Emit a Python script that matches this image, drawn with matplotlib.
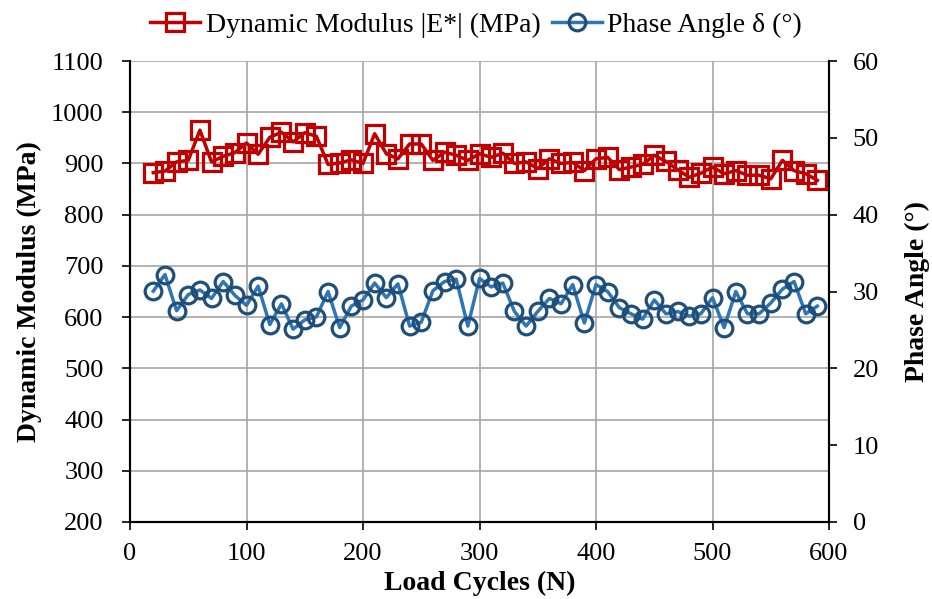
import matplotlib
matplotlib.use("Agg")
import matplotlib.pyplot as plt
import numpy as np

plt.rcParams['font.family'] = ['Liberation Serif', 'DejaVu Serif']

cycles = list(range(20, 600, 10))
modulus = [882, 885, 903, 906, 965, 903, 914, 921, 940, 918,
           951, 961, 942, 960, 953, 898, 901, 907, 900, 958,
           919, 909, 938, 938, 906, 922, 916, 906, 919, 912,
           920, 900, 903, 890, 909, 900, 902, 886, 909, 912,
           888, 893, 898, 916, 904, 888, 873, 881, 893, 880,
           886, 877, 877, 870, 906, 886, 880, 867]
phase = [30.05, 32.2, 27.5, 29.6, 30.2, 29.1, 31.3, 29.5, 28.2, 30.7,
         25.7, 28.4, 25.1, 26.3, 26.7, 30.0, 25.3, 28.1, 28.9, 31.1,
         29.2, 31.0, 25.5, 26.0, 30.1, 31.3, 31.6, 25.5, 31.7, 30.6,
         31.1, 27.4, 25.5, 27.4, 29.1, 28.4, 30.9, 25.9, 30.9, 30.0,
         27.9, 27.1, 26.4, 28.9, 27.1, 27.4, 26.8, 27.1, 29.2, 25.3,
         30.0, 27.1, 27.1, 28.5, 30.3, 31.3, 27.1, 28.1]

fig = plt.figure(figsize=(9.32, 5.99), dpi=100)
ax = fig.add_axes([130/932, 1-522/599, (829-130)/932, (522-61)/599])
ax2 = ax.twinx()

red = '#C00000'
blue_line = '#2E75B6'
blue_edge = '#1F4E79'

l1, = ax.plot(cycles, modulus, color=red, lw=2.5, marker='s', markersize=12.5,
              markerfacecolor='none', markeredgecolor=red, markeredgewidth=2.3,
              label='Dynamic Modulus |E*| (MPa)', zorder=3)
l2, = ax2.plot(cycles, phase, color=blue_line, lw=2.5, marker='o', markersize=12,
               markerfacecolor='none', markeredgecolor=blue_edge, markeredgewidth=2.3,
               label='Phase Angle δ (°)', zorder=3)

ax.set_xlim(0, 600)
ax.set_ylim(200, 1100)
ax2.set_ylim(0, 60)
ax.set_xticks(range(0, 601, 100))
ax.set_yticks(range(200, 1101, 100))
ax2.set_yticks(range(0, 61, 10))

ax.grid(True, color='#A6A6A6', lw=1.2)
ax.set_axisbelow(True)

for a in (ax, ax2):
    a.spines['top'].set_visible(False)
    for s in ('left', 'right', 'bottom'):
        a.spines[s].set_color('black')
        a.spines[s].set_linewidth(1.5)
    a.tick_params(direction='out', length=6, width=1.2, labelsize=19, colors='black')
ax.tick_params(axis='y', pad=13)
ax.tick_params(axis='x', pad=9)
ax2.tick_params(axis='y', pad=11)

ax.set_xlabel('Load Cycles (N)', fontsize=20, fontweight='bold')
ax.xaxis.set_label_coords(0.5, -0.105)
ax.set_ylabel('Dynamic Modulus (MPa)', fontsize=20, fontweight='bold')
ax.yaxis.set_label_coords(-0.126, 0.5)
ax2.set_ylabel('Phase Angle (°)', fontsize=20, fontweight='bold')
ax2.yaxis.set_label_coords(1.109, 0.5)

fig.legend(handles=[l1, l2], loc='center', bbox_to_anchor=(0.511, 1 - 25/599),
           ncol=2, frameon=False, fontsize=20, handlelength=1.8,
           columnspacing=0.4, handletextpad=0.2, borderpad=0)

fig.savefig('out.png', dpi=100)
